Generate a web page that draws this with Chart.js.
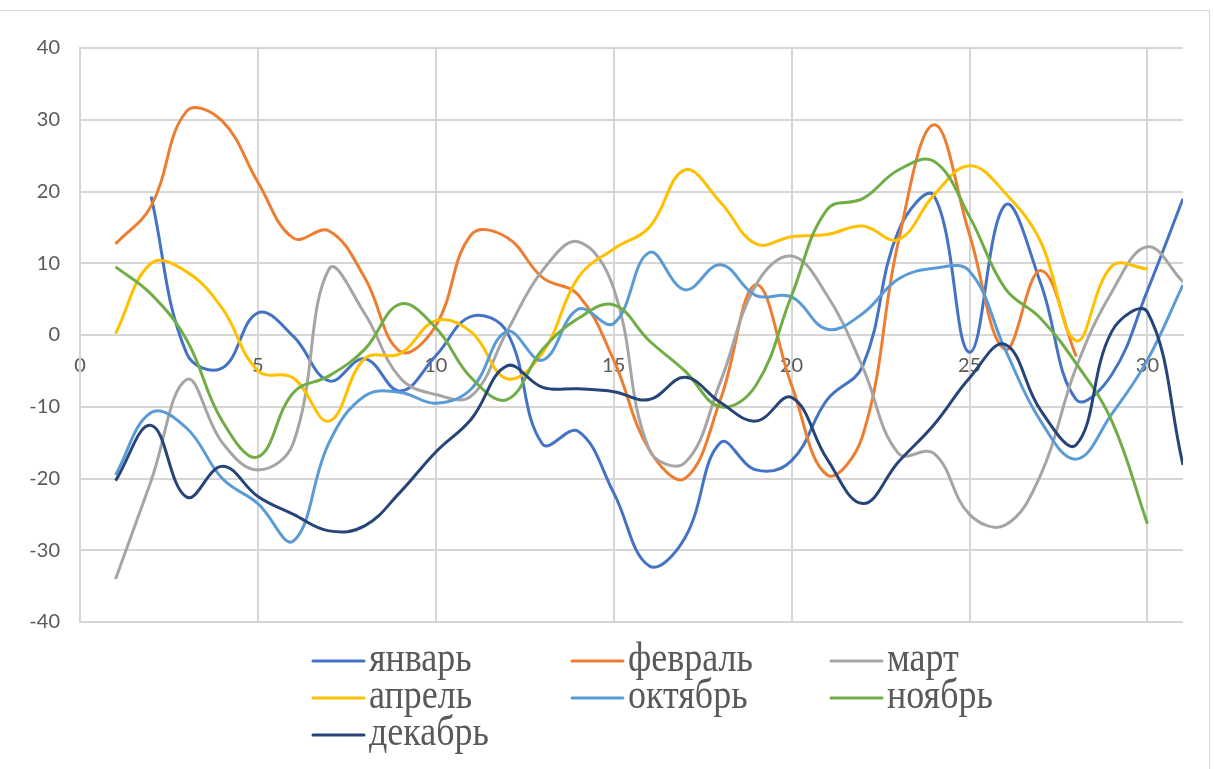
<!DOCTYPE html>
<html>
<head>
<meta charset="utf-8">
<script src="https://cdn.jsdelivr.net/npm/chart.js@4/dist/chart.umd.min.js"></script>
<style>
  html, body { margin: 0; padding: 0; background: #ffffff; }
  #frame { position: absolute; left: -2px; top: 10px; width: 1212px; height: 800px;
           border: 1px solid #d9d9d9; box-sizing: border-box; }
  #wrap { position: absolute; left: 0; top: 0; width: 1214px; height: 769px; }
</style>
</head>
<body>
<div id="frame"></div>
<div id="wrap"><canvas id="chart" width="1214" height="769"></canvas></div>
<script>
// Day of month (x) and daily values per month (y)
const days = [1, 2, 3, 4, 5, 6, 7, 8, 9, 10, 11, 12, 13, 14, 15, 16,
              17, 18, 19, 20, 21, 22, 23, 24, 25, 26, 27, 28, 29, 30, 31];

const monthNames = ['январь', 'февраль', 'март', 'апрель', 'октябрь', 'ноябрь', 'декабрь'];

const january  = [null, 19.3, -2.6, -4.6, 3.1, -0.2, -6.4, -3.3, -7.8, -2.9, 2.6, 0.4, -15.2, -13.4, -22, -32.2,
                  -28.3, -15, -18.8, -17.5, -9, -4.3, 14.5, 19.4, -2.4, 18.1, 7.2, -9, -5.5, 6.2, 19];
const february = [12.7, 18, 31.2, 29.8, 21.3, 13.5, 14.5, 8, -2.3, 1.3, 14, 13.6, 8, 5.6, -3.5, -16,
                  -20, -9, 7, -7, -19.5, -14, 13, 29.3, 14, -2, 9, -3];
const march    = [-34, -20.3, -6.2, -15, -18.8, -15, 9.2, 3, -6, -8.3, -8.5, 0.5, 9, 13, 6.5, -16,
                  -17.8, -6.5, 7, 11, 5.5, -4.5, -16.5, -16.5, -25, -26.5, -19.5, -4.5, 6, 12.3, 7.4];
const april    = [0.2, 10, 8.8, 3.7, -5, -6, -12, -3.3, -2.6, 2, 0.4, -6.1, -2.5, 8, 12, 15,
                  23, 18.5, 12.7, 13.7, 14, 15.2, 13.3, 19.5, 23.6, 19.8, 13, -0.8, 9.6, 9.2];
const october  = [-19.5, -10.8, -13, -20, -23.5, -28.7, -15, -8.5, -8, -9.5, -7.5, 0.5, -3.5, 3.6, 1.6, 11.5,
                  6.3, 9.8, 5.5, 5.3, 0.8, 3, 7.8, 9.3, 8.9, -2, -12, -17.3, -11, -3.5, 7];
const november = [9.5, 5.7, -0.7, -12, -17, -8, -5.7, -2, 4.3, 1, -6, -9, -2, 2.3, 4.2, -0.8,
                  -5, -10, -7, 5.5, 17.5, 19, 23, 24.2, 16.5, 6.5, 2.3, -4, -12, -26.3];
const december = [-20.3, -12.6, -22.6, -18.3, -22.5, -25, -27.3, -26.6, -21.9, -16.3, -11.7, -4.3, -7.3, -7.5, -7.9, -9,
                  -5.9, -9.4, -12, -8.7, -17.3, -23.5, -17.7, -12.5, -6, -1.3, -10.5, -15.3, 0.5, 3.2, -18.1];

const xTicks = [0, 5, 10, 15, 20, 25, 30];
const yTicks = [-40, -30, -20, -10, 0, 10, 20, 30, 40];

const seriesValues = [january, february, march, april, october, november, december];
const seriesColors = ['#4472C4', '#ED7D31', '#A5A5A5', '#FFC000', '#5B9BD5', '#70AD47', '#264478'];

// Pair each value with its day; empty days are left out of the line
function toPoints(values) {
  const pts = [];
  values.forEach((v, i) => { if (v !== null) pts.push({ x: days[i], y: v }); });
  return pts;
}

const datasets = seriesValues.map((vals, i) => ({
  label: monthNames[i],
  data: toPoints(vals),
  showLine: true,
  borderColor: seriesColors[i],
  backgroundColor: seriesColors[i],
  borderWidth: 3,
  pointRadius: 0,
  pointHoverRadius: 0,
  tension: 0.4,
  fill: false,
  order: seriesValues.length - i
}));

const textGrey = '#595959';
const gridGrey = '#d6d6d6';

// Key below the plot: three columns, line sample then month name
const keyLeft = 313, keyColumn = 259, keyTop = 661, keyRow = 37, keySample = 51;
const monthKey = {
  id: 'monthKey',
  afterDraw(chart) {
    const ctx = chart.ctx;
    ctx.save();
    ctx.font = '36px "Liberation Serif"';
    ctx.textBaseline = 'alphabetic';
    ctx.textAlign = 'left';
    chart.data.datasets.forEach((ds, i) => {
      const x0 = keyLeft + (i % 3) * keyColumn;
      const y = keyTop + Math.floor(i / 3) * keyRow;
      ctx.strokeStyle = ds.borderColor;
      ctx.lineWidth = 3;
      ctx.lineCap = 'round';
      ctx.beginPath();
      ctx.moveTo(x0, y);
      ctx.lineTo(x0 + keySample, y);
      ctx.stroke();
      // slightly tall lettering, baseline below the sample line
      ctx.save();
      ctx.translate(x0 + keySample + 5, y + 10);
      ctx.scale(1, 1.15);
      ctx.fillStyle = textGrey;
      ctx.fillText(ds.label, 0, 0);
      ctx.restore();
    });
    ctx.restore();
  }
};

const tickFont = { family: 'Lato', size: 20 };

new Chart(document.getElementById('chart'), {
  type: 'scatter',
  data: { datasets },
  options: {
    responsive: false,
    animation: false,
    locale: 'en-US',
    layout: { padding: { left: 0, right: 31, top: 48, bottom: 147 } },
    plugins: {
      legend: { display: false },
      tooltip: { enabled: false }
    },
    scales: {
      x: {
        type: 'linear',
        position: { y: 0 },
        min: 0,
        max: 31,
        afterBuildTicks: s => { s.ticks = xTicks.map(v => ({ value: v })); },
        ticks: { includeBounds: false, stepSize: 5, padding: 19, color: textGrey, font: tickFont,
                 maxRotation: 0, autoSkip: false },
        grid: { color: gridGrey, lineWidth: 2, drawTicks: false },
        border: { color: gridGrey, width: 2 }
      },
      y: {
        min: -40,
        max: 40,
        afterBuildTicks: s => { s.ticks = yTicks.map(v => ({ value: v })); },
        afterFit: s => { s.width = 80; },
        ticks: { stepSize: 10, padding: 20, color: textGrey, font: tickFont },
        grid: { color: gridGrey, lineWidth: 2, drawTicks: false },
        border: { color: gridGrey, width: 2 }
      }
    }
  },
  plugins: [monthKey]
});
</script>
</body>
</html>
